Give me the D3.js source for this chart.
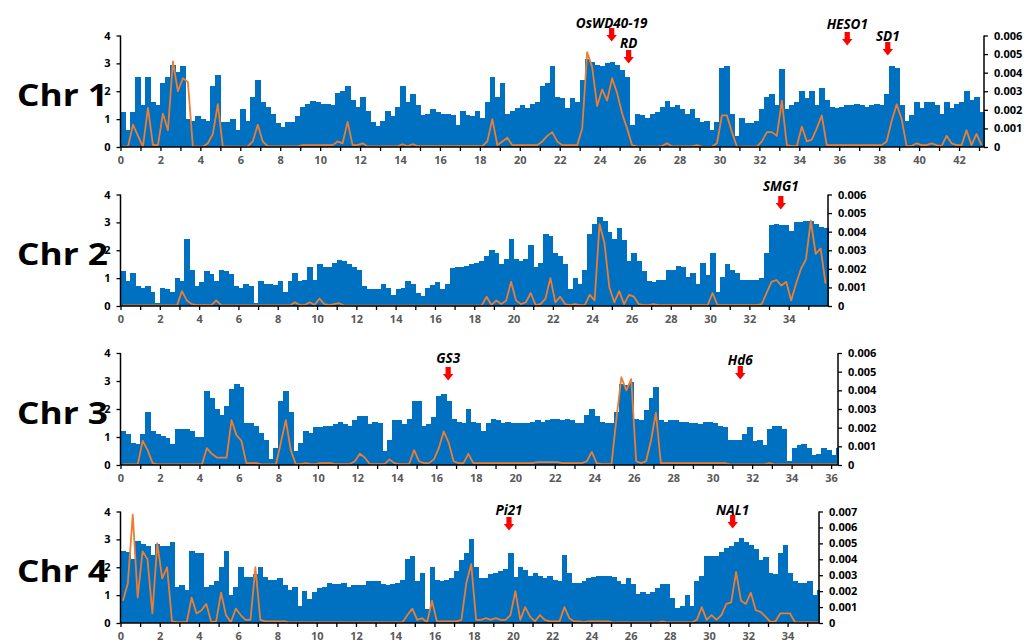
<!DOCTYPE html>
<html>
<head>
<meta charset="utf-8">
<script src="https://cdn.jsdelivr.net/npm/d3@7"></script>
<style>
  html, body { margin: 0; padding: 0; background: #fff; }
  svg { display: block; }
  text { font-family: "Open Sans", "DejaVu Sans", sans-serif; }
</style>
</head>
<body>
<svg id="chart" width="1035" height="642"></svg>
<script>
// Window size along the chromosome, in Mb
const BIN = 0.25;

const chromosomes = ["Chr 1", "Chr 2", "Chr 3", "Chr 4"];
const chromLengths = [43.25, 36.0, 36.35, 35.6];

const leftTicks = [0, 1, 2, 3, 4];
const rightTicks6 = [0, 0.001, 0.002, 0.003, 0.004, 0.005, 0.006];
const rightTicks7 = [0, 0.001, 0.002, 0.003, 0.004, 0.005, 0.006, 0.007];

// Blue bars (left axis), one value per window
const chr1Bars = [
  1.25, 0.6, 1.25, 2.5, 1.5, 2.5, 1.6, 1.5, 2.3, 2.5,
  2.95, 2.7, 2.9, 1.0, 0.95, 1.1, 1.0, 0.95, 2.2, 2.6,
  0.9, 0.9, 1.0, 0.6, 1.35, 0.95, 1.8, 2.4, 1.6, 1.45,
  1.2, 0.85, 0.7, 0.9, 0.9, 1.1, 1.45, 1.55, 1.65, 1.6,
  1.55, 1.55, 1.5, 1.95, 2.0, 2.2, 1.7, 1.45, 1.8, 1.3,
  0.9, 0.75, 0.95, 1.3, 1.1, 1.45, 2.2, 1.6, 1.9, 1.5,
  1.15, 1.2, 1.35, 1.25, 1.2, 1.2, 1.15, 0.8, 1.3, 1.15,
  1.1, 1.3, 1.05, 1.6, 2.5, 1.8, 2.3, 1.2, 1.3, 1.4,
  1.5, 1.4, 1.55, 1.6, 2.2, 2.3, 2.9, 1.8, 1.75, 1.4,
  1.75, 1.6,
  2.4, 3.15, 3.05, 2.95, 2.9, 3.0, 3.05, 2.95, 2.75, 2.5,
  0.8, 1.2, 1.15, 1.05, 1.2, 1.25, 1.45, 1.65, 1.45, 1.5,
  1.35, 1.2, 1.35, 1.05, 0.9, 0.95, 0.6, 0.9, 2.85, 2.9,
  1.2, 0.4, 1.05, 0.85, 0.85, 0.95, 1.35, 1.8, 1.9, 1.5,
  2.8, 1.35, 1.5, 1.6, 2.0, 1.75, 2.0, 1.5, 2.1, 1.7,
  1.45, 1.4, 1.45, 1.5, 1.5, 1.55, 1.5, 1.45, 1.5, 1.55,
  1.5, 1.9, 2.9, 2.85, 1.5, 0.95, 1.15, 1.6, 1.4, 1.6,
  1.6, 1.5, 1.2, 1.6, 1.4, 1.55, 1.6, 2.0, 1.7, 1.8, 1.25
];
const chr2Bars = [
  1.25, 0.9, 1.2, 0.7, 0.65, 0.7, 0.5, 0.1, 0.65, 0.6,
  0.5, 1.0, 0.9, 2.4, 1.3, 0.7, 0.85, 1.25, 1.15, 0.9,
  1.3, 1.25, 1.15, 0.7, 0.65, 0.8, 0.7, 0.1, 0.9, 0.8,
  0.8, 0.75, 0.9, 0.5, 0.9, 1.2, 0.9, 0.95, 1.4, 0.95,
  1.5, 1.4, 1.4, 1.55, 1.65, 1.6, 1.5, 1.4, 1.3, 0.7,
  0.6, 0.6, 0.6, 0.8, 0.65, 0.4, 0.6, 0.65, 0.9, 0.8,
  0.45, 0.35, 0.65, 0.75, 0.85, 0.6, 0.8, 1.35, 1.4, 1.4,
  1.45, 1.5, 1.55, 1.6, 1.8, 2.0, 1.9, 1.5, 1.7, 2.4,
  1.7, 1.6, 1.7, 2.2, 1.4, 1.55, 2.6, 2.5, 1.9, 1.8,
  1.5, 0.6, 1.0, 0.8,
  1.3, 2.6, 2.95, 3.2, 3.05, 2.65, 2.4, 2.8, 2.35, 1.6,
  1.9, 1.6, 1.25, 0.9, 0.85, 0.95, 0.95, 1.3, 1.3, 1.45,
  1.4, 1.05, 1.2, 0.8, 1.55, 1.1, 1.9, 0.5, 1.05, 1.5,
  1.3, 1.2, 0.95, 0.95, 0.95, 0.95, 1.0, 1.9, 2.9, 2.95,
  2.9, 2.9, 2.7, 3.0, 3.0, 3.05, 3.05, 2.95, 2.85, 2.8
];
const chr3Bars = [
  1.2, 1.1, 0.8, 0.75, 1.1, 1.9, 1.2, 1.1, 1.05, 0.95,
  0.75, 1.3, 1.3, 1.3, 1.2, 1.0, 1.0, 2.65, 2.4, 2.0,
  1.8, 2.1, 2.7, 2.9, 2.8, 1.5, 1.5, 1.4, 1.15, 0.9,
  0.2, 0.6, 2.3, 2.65, 1.9, 0.5, 0.8, 1.2, 1.15, 1.35,
  1.35, 1.4, 1.4, 1.45, 1.55, 1.45, 1.4, 1.6, 1.75, 1.75,
  1.45, 1.55, 1.5, 0.5, 0.9, 1.6, 1.6, 1.45, 1.65, 2.3,
  2.3, 1.4, 1.45, 1.7, 2.45, 2.55, 2.3, 1.65, 1.55, 1.5,
  2.0, 1.55, 1.5, 1.2, 1.5, 1.65, 1.6, 1.5, 1.55, 1.5,
  1.5, 1.5, 1.5, 1.55, 1.6, 1.55, 1.6, 1.65, 1.65, 1.6,
  1.65, 1.6, 1.5,
  1.5, 1.8, 2.0, 1.75, 1.55, 1.5, 1.5, 1.9, 2.9, 2.85,
  2.95, 1.65, 1.6, 1.95, 2.4, 2.8, 1.6, 1.55, 1.6, 1.6,
  1.55, 1.55, 1.5, 1.5, 1.45, 1.55, 1.55, 1.5, 1.4, 1.35,
  0.9, 0.9, 0.9, 1.1, 1.35, 0.85, 0.9, 0.7, 1.3, 1.4,
  1.4, 1.3, 0.15, 0.6, 0.7, 0.75, 0.6, 0.35, 0.4, 0.6,
  0.55, 0.35, 0.6
];
const chr4Bars = [
  2.6, 2.55, 2.3, 2.95, 2.85, 2.75, 2.45, 2.85, 2.75, 2.75,
  2.9, 1.3, 1.35, 1.2, 2.6, 2.5, 2.5, 1.3, 1.35, 1.5,
  2.0, 2.6, 1.0, 1.3, 2.0, 1.65, 1.65, 1.75, 2.0, 1.65,
  1.55, 1.55, 1.6, 1.35, 1.2, 1.3, 0.6, 1.15, 0.85, 1.1,
  1.25, 1.3, 1.45, 1.4, 1.4, 1.45, 1.3, 1.35, 1.35, 1.35,
  1.5, 1.5, 1.5, 1.4, 1.35, 1.4, 1.45, 1.55, 2.3, 2.4,
  1.5, 1.8, 0.5, 2.0, 1.55, 1.5, 1.55, 1.6, 1.85, 2.25,
  2.5, 3.0, 2.0, 1.6, 1.6, 1.75, 1.8, 1.85, 1.95, 2.5,
  1.65, 2.0, 1.9, 1.7, 1.8, 1.7, 1.6, 1.7, 1.55, 1.5,
  2.45, 1.8, 1.45, 1.45,
  1.5, 1.6, 1.65, 1.7, 1.7, 1.7, 1.65, 1.5, 1.4, 1.6,
  1.4, 1.05, 1.1, 1.05, 1.1, 1.25, 1.4, 1.4, 0.9, 0.55,
  0.6, 1.0, 0.6, 1.5, 1.7, 2.4, 2.4, 2.4, 2.55, 2.7,
  2.75, 2.9, 3.05, 2.9, 2.8, 2.65, 2.25, 2.35, 1.8, 1.75,
  2.5, 2.8, 1.8, 1.5, 1.45, 1.45, 1.5, 1.0, 1.2
];

// Orange line (right axis), one value per window
const chr1Line = [
  0.00002, 0.00002, 0.0012, 0.0006, 0.00002, 0.0021, 0.0001, 0.0001, 0.0018, 0.0009,
  0.0046, 0.003, 0.0037, 0.0035, 0.00002, 0.00002, 0.00002, 0.0002, 0.0007, 0.0023,
  0.00002, 0.00002, 0.00002, 0.00002, 0.00002, 0.00003, 0.0003, 0.0012, 0.0003, 0.00003,
  0.00003, 0.00003, 0.00003, 0.00003, 0.00003, 0.00003, 0.0001, 0.0001, 0.0001, 0.0001,
  0.0001, 0.0001, 0.0001, 0.0003, 0.0002, 0.00135, 0.0001, 0.0001, 0.0002, 0.00003,
  0.00003, 0.00003, 0.00003, 0.00003, 0.00003, 0.00003, 0.00015, 0.00003, 0.00015, 0.00005,
  0.00005, 0.00005, 0.00005, 0.00005, 0.00005, 0.00005, 0.00005, 0.00005, 0.00005, 0.00005,
  0.00005, 0.00005, 0.00005, 0.0003, 0.0015, 0.0001, 0.0003, 0.0005, 0.0001, 0.0001,
  0.0001, 0.0001, 0.0001, 0.0001, 0.0003, 0.0006, 0.0008, 0.0003, 0.0001, 0.0001,
  0.0001, 0.0001,
  0.001, 0.0051, 0.0043, 0.0022, 0.0031, 0.0025, 0.0037, 0.0029, 0.0018, 0.001,
  0.0001, 0.00002, 0.00002, 0.00002, 0.00002, 0.00002, 0.00005, 0.0002, 0.00003, 0.00003,
  0.00003, 0.00003, 0.00003, 0.0001, 0.00001, 0.00001, 0.00001, 0.0002, 0.0017, 0.0017,
  0.0008, 0.00001, 0.00002, 0.00002, 0.00002, 0.00002, 0.0003, 0.0008, 0.0008, 0.0006,
  0.0025, 0.0001, 0.00005, 0.00005, 0.0011, 0.0003, 0.0004, 0.001, 0.0017, 0.0001,
  0.0001, 0.0001, 0.0001, 0.0001, 0.0001, 0.0001, 0.0001, 0.0001, 0.0001, 0.0001,
  0.0001, 0.0003, 0.0014, 0.0023, 0.0015, 0.00005, 0.00005, 0.0002, 0.0001, 0.0001,
  0.0002, 0.0001, 0.00005, 0.0006, 0.0002, 0.0001, 0.0001, 0.0009, 0.0001, 0.0007, 0.0001
];
const chr2Line = [
  0.00003, 0.00003, 0.00003, 0.00003, 0.00003, 0.00003, 0.00003, 0.00003, 0.00003, 0.00003,
  0.00003, 0.00003, 0.0008, 0.0003, 0.0001, 0.00005, 0.00005, 0.00005, 0.00005, 0.0003,
  0.00003, 0.00003, 0.00003, 0.00003, 0.00003, 0.00003, 0.00003, 0.00003, 0.00003, 0.00003,
  0.00003, 0.00003, 0.00003, 0.00003, 0.00003, 0.0002, 0.00005, 0.00005, 0.0002, 0.00005,
  0.0004, 0.0001, 0.00005, 0.0001, 0.00015, 0.00002, 0.00002, 0.00002, 0.00002, 0.00002,
  0.00002, 0.00002, 0.00002, 0.00002, 0.00002, 0.00002, 0.00002, 0.00002, 0.00002, 0.00002,
  0.00002, 0.00002, 0.00002, 0.00002, 0.00002, 0.00002, 0.00002, 0.00002, 0.00002, 0.00002,
  0.00002, 0.00002, 0.00002, 0.00002, 0.0005, 0.00005, 0.0003, 0.0001, 0.0003, 0.0013,
  0.0003, 0.0001, 0.0002, 0.0007, 0.00005, 0.0001, 0.0004, 0.0015, 0.0002, 0.0005,
  0.0001, 0.00005, 0.0001, 0.00005,
  0.00005, 0.0006, 0.0003, 0.0044, 0.0034, 0.001, 0.0002, 0.0008, 0.0001, 0.0006,
  0.0005, 0.0001, 0.00005, 0.00005, 0.0001, 0.00005, 0.00005, 0.00005, 0.00005, 0.00005,
  0.00005, 0.00005, 0.00005, 0.00005, 0.00005, 0.00005, 0.0007, 0.00005, 0.00005, 0.00005,
  0.00005, 0.00005, 0.00005, 0.00005, 0.00005, 0.00005, 0.0001, 0.0007, 0.0013, 0.0014,
  0.0011, 0.0013, 0.0003, 0.0012, 0.002, 0.0025, 0.0046, 0.0028, 0.0031, 0.0012
];
const chr3Line = [
  0.00003, 0.00003, 0.00003, 0.00003, 0.0013, 0.0008, 0.0001, 0.00003, 0.00003, 0.00003,
  0.00003, 0.00003, 0.00003, 0.00003, 0.00003, 0.00003, 0.00003, 0.0009, 0.0006, 0.0004,
  0.0004, 0.0004, 0.0024, 0.0016, 0.0013, 0.0001, 0.0001, 0.0001, 0.00003, 0.00003,
  0.00003, 0.00003, 0.0012, 0.0024, 0.0008, 0.00005, 0.00005, 0.0001, 0.00005, 0.00005,
  0.0001, 0.0001, 0.0001, 0.00005, 0.00005, 0.00005, 0.00005, 0.0002, 0.0006, 0.0004,
  0.00005, 0.00005, 0.00005, 0.00005, 0.0003, 0.0001, 0.00005, 0.00005, 0.00005, 0.0008,
  0.0002, 0.0001, 0.0001, 0.0003, 0.0009, 0.0018, 0.0012, 0.0002, 0.0001, 0.0001,
  0.0006, 0.0001, 0.0001, 0.0001, 0.0001, 0.0001, 0.0001, 0.0001, 0.0001, 0.0001,
  0.0001, 0.0001, 0.0001, 0.0001, 0.00015, 0.00015, 0.00015, 0.00015, 0.00015, 0.0001,
  0.0001, 0.0001, 0.0001,
  0.0001, 0.0002, 0.0007, 0.0001, 0.00005, 0.00005, 0.00005, 0.0025, 0.0047, 0.004,
  0.0046, 0.0002, 0.0001, 0.0002, 0.0013, 0.0028, 0.0001, 0.0001, 0.0001, 0.0001,
  0.0001, 0.0001, 0.0001, 0.0001, 0.0001, 0.0001, 0.0001, 0.0001, 0.0001, 0.0001,
  0.00003, 0.00003, 0.00003, 0.00003, 0.00003, 0.00003, 0.00003, 0.00003, 0.0001, 0.00003,
  0.00003, 0.00003, 0.00003, 0.00003, 0.00003, 0.00003, 0.00003, 0.00003, 0.00003, 0.00003,
  0.00003, 0.00003, 0.00003
];
const chr4Line = [
  0.0014, 0.0025, 0.0068, 0.0016, 0.0045, 0.004, 0.0006, 0.005, 0.0028, 0.0035,
  0.0001, 0.00005, 0.00005, 0.00005, 0.0016, 0.0006, 0.0008, 0.0012, 0.00005, 0.0001,
  0.0019, 0.0005, 0.00005, 0.0009, 0.0005, 0.0002, 0.0002, 0.0035, 0.0002, 0.0001,
  0.0001, 0.0001, 0.0001, 0.0001, 0.00003, 0.00003, 0.00003, 0.00003, 0.00003, 0.00003,
  0.00003, 0.00003, 0.00003, 0.00003, 0.00003, 0.00003, 0.00003, 0.00003, 0.00003, 0.00003,
  0.00003, 0.00003, 0.00003, 0.00003, 0.00003, 0.00003, 0.00003, 0.00005, 0.0005, 0.0009,
  0.0002, 0.0003, 0.00003, 0.0014, 0.0001, 0.0001, 0.0001, 0.0001, 0.0001, 0.0002,
  0.0025, 0.0037, 0.0002, 0.0002, 0.0003, 0.0002, 0.0003, 0.0002, 0.0002, 0.0005,
  0.002, 0.0002, 0.001, 0.0004, 0.0001, 0.0005, 0.0002, 0.0001, 0.0001, 0.0001,
  0.001, 0.0003, 0.0001, 0.0001,
  0.00005, 0.0001, 0.0001, 0.0001, 0.0001, 0.0001, 0.00003, 0.00003, 0.00003, 0.00003,
  0.00003, 0.00003, 0.00003, 0.00003, 0.00003, 0.00003, 0.0001, 0.00003, 0.00003, 0.00003,
  0.00003, 0.00003, 0.00003, 0.0002, 0.001, 0.0002, 0.0005, 0.0002, 0.0005, 0.0012,
  0.0013, 0.0032, 0.0014, 0.0012, 0.0019, 0.0008, 0.0007, 0.0004, 0.00005, 0.0001,
  0.0006, 0.0006, 0.0006, 0.00005, 0.00003, 0.00003, 0.00003, 0.00003, 0.00003
];

// Marked genes: chromosome index, name, position (Mb)
const geneNames = ["OsWD40-19", "RD", "HESO1", "SD1", "SMG1", "GS3", "Hd6", "Pi21", "NAL1"];
const geneChrom = [0, 0, 0, 0, 1, 2, 2, 3, 3];
const genePos = [24.6, 25.45, 36.4, 38.43, 33.6, 16.6, 31.4, 19.8, 31.2];

const barSeries = [chr1Bars, chr2Bars, chr3Bars, chr4Bars];
const lineSeries = [chr1Line, chr2Line, chr3Line, chr4Line];
const rightTickSets = [rightTicks6, rightTicks6, rightTicks6, rightTicks7];

// ---- layout ----
const panels = [
  { top: 35.5, bottom: 147, left: 120.5, right: 984 },
  { top: 194.5, bottom: 306, left: 120.5, right: 828 },
  { top: 353, bottom: 465, left: 120.5, right: 838 },
  { top: 511.5, bottom: 623, left: 120.5, right: 819 }
];
// vertical offsets of gene labels / arrows from the panel top
const geneLabelOffsets = {
  "OsWD40-19": [-12.5, -7.5], "RD": [7.5, 14.5], "HESO1": [-11.5, -3.5], "SD1": [0.5, 6.5],
  "SMG1": [-8.5, 1.5], "GS3": [5, 14], "Hd6": [7, 13], "Pi21": [-1.5, 5.5], "NAL1": [-1.5, 3.5]
};

const BLUE = "#0070C0";
const ORANGE = "#ED7D31";

const svg = d3.select("#chart");

chromosomes.forEach((name, ci) => {
  const p = panels[ci];
  const len = chromLengths[ci];
  const bars = barSeries[ci];
  const line = lineSeries[ci];
  const rTicks = rightTickSets[ci];
  const rMax = rTicks[rTicks.length - 1];

  const x = d3.scaleLinear().domain([0, len]).range([p.left, p.right]);
  const yL = d3.scaleLinear().domain([0, 4]).range([p.bottom, p.top]);
  const yR = d3.scaleLinear().domain([0, rMax]).range([p.bottom, p.top]);

  const g = svg.append("g");

  // bars
  g.append("g")
    .attr("shape-rendering", "crispEdges")
    .selectAll("rect")
    .data(bars)
    .join("rect")
    .attr("x", (d, i) => x(i * BIN))
    .attr("width", (d, i) => Math.max(0, x(Math.min((i + 1) * BIN, len)) - x(i * BIN) + 0.6))
    .attr("y", d => yL(d))
    .attr("height", d => yL(0) - yL(d))
    .attr("fill", BLUE);

  // line
  const lineGen = d3.line()
    .x((d, i) => x(Math.min((i + 0.5) * BIN, len)))
    .y(d => yR(d));
  g.append("path")
    .datum(line)
    .attr("d", lineGen)
    .attr("fill", "none")
    .attr("stroke", ORANGE)
    .attr("stroke-width", 1.8)
    .attr("stroke-linejoin", "round");

  // left axis
  const axL = g.append("g").attr("transform", `translate(${p.left},0)`)
    .call(d3.axisLeft(yL).tickValues(leftTicks).tickFormat(d3.format("d")).tickSize(4).tickPadding(6));
  // right axis
  const axR = g.append("g").attr("transform", `translate(${p.right},0)`)
    .call(d3.axisRight(yR).tickValues(rTicks).tickFormat(d => d === 0 ? "0" : d3.format(".3f")(d)).tickSize(4).tickPadding(6));
  // bottom axis
  const xTicks = d3.range(0, Math.ceil(len)).filter(v => v < len - 0.05);
  const axB = g.append("g").attr("transform", `translate(0,${p.bottom})`)
    .call(d3.axisBottom(x).tickValues(xTicks).tickFormat(d => d % 2 === 0 ? d : "").tickSize(4).tickPadding(5));

  [axL, axR, axB].forEach(ax => {
    ax.select(".domain").attr("stroke", "#000").attr("stroke-width", 1.5);
    ax.selectAll(".tick line").attr("stroke", "#000").attr("stroke-width", 1.3);
    ax.selectAll("text")
      .attr("font-family", "'Open Sans', sans-serif")
      .attr("font-weight", 700)
      .attr("font-size", 11);
  });
  axL.selectAll("text").attr("fill", "#000");
  axR.selectAll("text").attr("fill", "#000");
  axB.selectAll("text").attr("fill", "#595959");
  // axis lines without outer end ticks
  axL.select(".domain").attr("d", `M0,${p.bottom}V${p.top}`);
  axR.select(".domain").attr("d", `M0,${p.bottom}V${p.top}`);
  axB.select(".domain").attr("d", `M${p.left},0H${p.right}`);

  // chromosome label
  svg.append("text")
    .attr("x", 17)
    .attr("y", p.bottom - 41)
    .attr("font-size", 31)
    .attr("font-weight", 700)
    .attr("fill", "#000")
    .attr("textLength", 91)
    .attr("lengthAdjust", "spacingAndGlyphs")
    .text(name);

  // gene markers
  geneNames.forEach((gn, gi) => {
    if (geneChrom[gi] !== ci) return;
    const gx = x(genePos[gi]);
    const [tdy, ady] = geneLabelOffsets[gn];
    svg.append("text")
      .attr("x", gx)
      .attr("y", p.top + tdy)
      .attr("dy", "0.35em")
      .attr("text-anchor", "middle")
      .attr("font-size", 13.5)
      .attr("font-weight", 700)
      .attr("font-style", "italic")
      .attr("fill", "#000")
      .text(gn);
    const ay = p.top + ady;
    const arrow = d3.path();
    arrow.moveTo(gx - 2.6, ay);
    arrow.lineTo(gx + 2.6, ay);
    arrow.lineTo(gx + 2.6, ay + 7);
    arrow.lineTo(gx + 5.2, ay + 7);
    arrow.lineTo(gx, ay + 13.5);
    arrow.lineTo(gx - 5.2, ay + 7);
    arrow.lineTo(gx - 2.6, ay + 7);
    arrow.closePath();
    svg.append("path").attr("d", arrow.toString()).attr("fill", "#FF0000");
  });
});
</script>
</body>
</html>
